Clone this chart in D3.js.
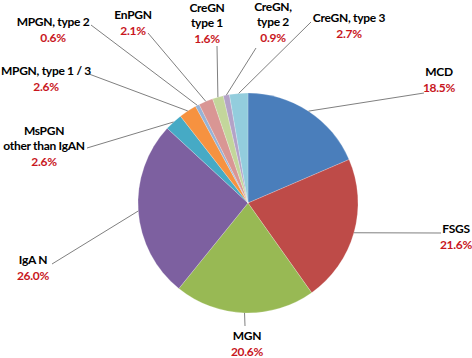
<!DOCTYPE html>
<html><head><meta charset="utf-8">
<script src="https://cdn.jsdelivr.net/npm/d3@7"></script>
<style>
body{margin:0;background:#fff;}
svg{display:block;}
text{font-family:Lato,"Open Sans",sans-serif;font-weight:bold;letter-spacing:-0.3px;}
</style></head>
<body>
<svg id="c" width="472" height="358"></svg>
<script>
const categories = ["MCD","FSGS","MGN","IgA N","MsPGN\nother than IgAN","MPGN, type 1 / 3","MPGN, type 2","EnPGN","CreGN\ntype 1","CreGN,\ntype 2","CreGN, type 3"];
const values = [18.5,21.6,20.6,26.0,2.6,2.6,0.6,2.1,1.6,0.9,2.7];
const valueLabels = ["18.5%","21.6%","20.6%","26.0%","2.6%","2.6%","0.6%","2.1%","1.6%","0.9%","2.7%"];
const colors = ["#4A7EBB","#BE4B48","#98B954","#7D60A0","#46AAC5","#F69240","#95B3D7","#D99694","#C3D69B","#B3A2C7","#93CDDD"];
// label anchor (text center x, first line center y) and leader start point
const labelPos = [
  {x:439,y:72, lx:424,ly:93},
  {x:456,y:229, lx:441,ly:233},
  {x:247,y:336, lx:245,ly:326},
  {x:33,y:260, lx:52,ly:264},
  {x:44,y:131, lx:87,ly:148},
  {x:46,y:71, lx:89,ly:74},
  {x:53,y:22, lx:91,ly:25},
  {x:133,y:15, lx:148,ly:33},
  {x:207,y:8, lx:217,ly:46},
  {x:273,y:7, lx:256,ly:48},
  {x:349,y:18, lx:311,ly:22}
];

const cx=248, cy=203, r=110;
const svg=d3.select("#c");
const g=svg.append("g").attr("transform",`translate(${cx},${cy})`);
const pie=d3.pie().sort(null).value(d=>d)(values);
const arc=d3.arc().innerRadius(0).outerRadius(r);
g.selectAll("path").data(pie).join("path")
  .attr("d",arc).attr("fill",(d,i)=>colors[i])
  .attr("stroke","rgba(255,255,255,0.35)").attr("stroke-width",0.6);

// leader lines
pie.forEach((d,i)=>{
  const a=(d.startAngle+d.endAngle)/2;
  const px=cx+Math.sin(a)*r, py=cy-Math.cos(a)*r;
  const p=labelPos[i];
  svg.append("line").attr("x1",p.lx).attr("y1",p.ly).attr("x2",px).attr("y2",py)
    .attr("stroke","#808080").attr("stroke-width",1);
});

// labels
categories.forEach((c,i)=>{
  const p=labelPos[i];
  const lines=c.split("\n");
  const t=svg.append("text").attr("text-anchor","middle").attr("font-size",12);
  lines.forEach((ln,k)=>{
    t.append("tspan").attr("x",p.x).attr("y",p.y+k*15).attr("dy","0.35em").attr("fill","#000").text(ln);
  });
  t.append("tspan").attr("x",p.x).attr("y",p.y+lines.length*15+1).attr("dy","0.35em").attr("fill","#C8161D").text(valueLabels[i]);
});
</script>
</body></html>
